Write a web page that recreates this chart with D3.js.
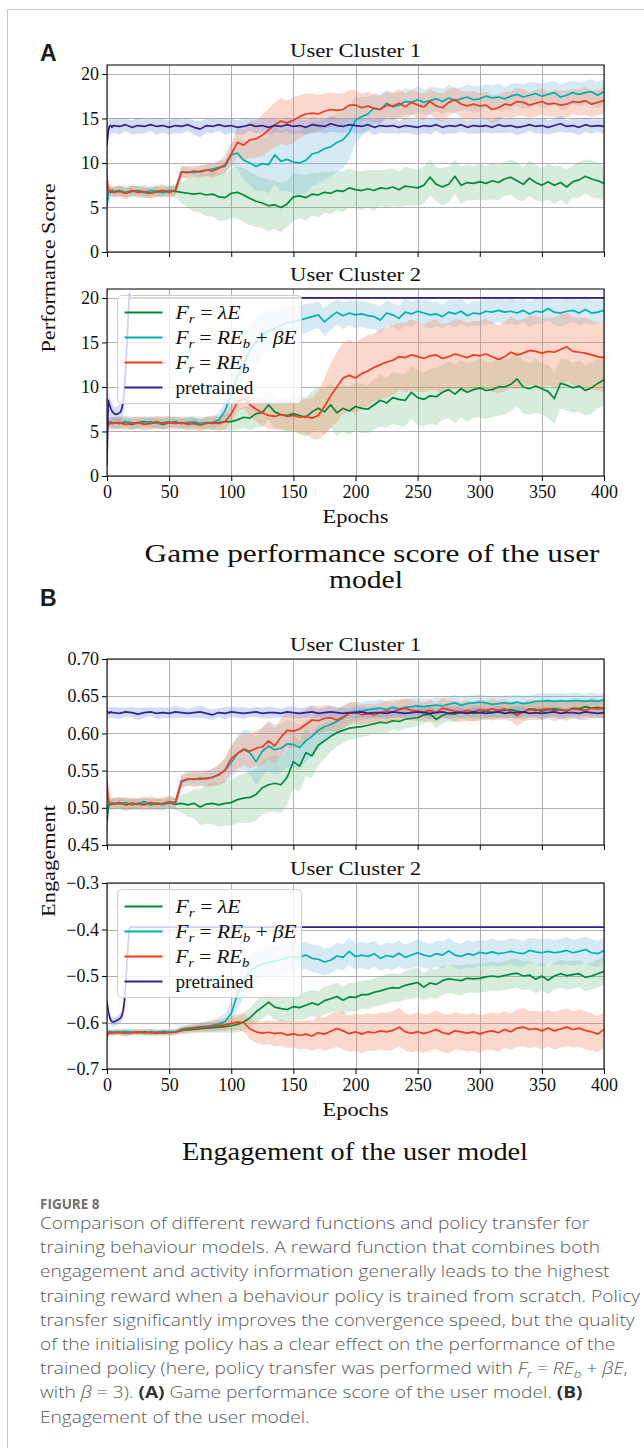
<!DOCTYPE html>
<html>
<head>
<meta charset="utf-8">
<script src="https://cdn.jsdelivr.net/npm/d3@7"></script>
<style>
html, body { margin: 0; padding: 0; background: #fff; }
svg { display: block; }
</style>
</head>
<body>
<svg id="fig" width="644" height="1448"></svg>
<script>
// ---------- shared axes ----------
const epochs = [0, 1, 2, 3, 4].concat(d3.range(5, 401, 5));
const rampEpochs = [0, 1, 2, 3, 4, 5, 7, 9, 11, 12, 13, 14, 15, 16, 17, 18, 19, 20].concat(d3.range(25, 401, 5));
const epochTicks = [0, 50, 100, 150, 200, 250, 300, 350, 400];
const perfTicks = [0, 5, 10, 15, 20];
const engTicks1 = [0.45, 0.50, 0.55, 0.60, 0.65, 0.70];
const engTicks2 = [-0.7, -0.6, -0.5, -0.4, -0.3];
const seriesNames = ["lambdaE", "combined", "behaviour", "pretrained"];

// ---------- Performance score, user cluster 1 ----------
const perfC1Green = [5.6,6.6,6.9,6.7,6.8,
 6.7,6.9,6.6,6.8,6.9,6.7,6.6,6.8,6.7,6.9,
 6.8,6.7,6.6,6.5,6.6,6.4,6.5,6.2,6.1,6.6,
 6.7,6.4,6.0,5.7,5.5,5.2,5.3,5.0,5.4,6.2,
 6.3,6.1,6.5,6.4,6.7,6.6,6.9,6.8,7.2,7.0,
 6.9,7.1,6.9,7.2,7.1,7.3,7.0,7.4,7.3,7.2,
 7.5,8.4,7.6,7.3,7.6,8.5,7.5,7.8,7.7,7.9,
 7.7,8.0,7.8,8.2,8.4,8.0,7.6,8.3,7.8,7.5,
 7.9,7.5,7.8,7.3,7.9,8.1,8.5,8.2,8.0,7.7];
const perfC1GreenBand = [0.8,0.6,0.5,0.5,0.5,
 0.5,0.6,0.5,0.6,0.5,0.6,0.5,0.6,0.5,0.6,
 0.7,1.2,1.6,2.0,2.2,2.4,2.5,2.7,2.6,2.8,
 2.9,3.0,3.0,2.9,2.8,2.9,2.7,2.8,2.6,2.7,
 2.5,2.6,2.4,2.5,2.3,2.4,2.2,2.3,2.2,2.1,
 2.2,2.1,2.3,2.0,2.2,2.1,2.0,2.2,2.1,2.0,
 2.1,2.0,1.9,2.1,2.0,1.9,2.1,2.0,1.9,2.0,
 1.9,2.1,2.0,1.9,2.0,2.1,1.9,2.0,2.0,1.9,
 2.0,2.1,1.9,2.0,1.8,2.0,1.9,2.1,2.0,1.9];
const perfC1Cyan = [5.0,6.5,6.9,6.8,7.0,
 6.8,6.9,6.7,6.9,6.8,6.7,6.9,6.8,6.7,6.9,
 6.9,9.0,9.0,8.9,9.1,9.2,9.3,9.5,9.6,10.9,
 11.1,10.3,10.0,9.6,9.9,9.8,10.9,10.2,10.4,10.1,
 10.0,10.3,11.0,11.2,11.6,11.8,12.3,12.6,13.4,14.8,
 15.2,15.5,16.2,16.0,16.7,16.3,16.5,16.9,16.8,17.1,
 16.8,17.0,17.2,16.9,17.3,17.0,17.2,17.4,17.1,17.2,
 17.5,17.3,17.4,17.2,17.5,17.7,17.4,17.6,17.8,17.5,
 17.7,17.9,17.4,17.6,17.9,17.7,17.9,18.0,17.6,18.0];
const perfC1CyanBand = [1.0,0.6,0.5,0.5,0.5,
 0.5,0.6,0.5,0.5,0.6,0.5,0.5,0.6,0.5,0.5,
 0.5,0.6,0.6,0.5,0.6,0.6,0.7,0.7,0.8,1.2,
 1.8,2.2,2.5,2.8,3.0,3.2,3.3,3.4,3.5,3.6,
 3.6,3.7,3.6,3.5,3.4,3.3,3.3,3.2,3.0,2.6,
 2.2,1.9,1.7,1.6,1.5,1.5,1.4,1.5,1.4,1.5,
 1.4,1.5,1.3,1.4,1.5,1.4,1.3,1.4,1.5,1.4,
 1.3,1.4,1.5,1.3,1.4,1.3,1.4,1.5,1.3,1.4,
 1.4,1.3,1.4,1.5,1.3,1.4,1.3,1.4,1.5,1.4];
const perfC1Red = [8.4,7.0,6.8,6.7,6.8,
 6.7,6.8,6.6,6.9,6.7,6.8,6.6,6.8,6.9,6.7,
 6.9,9.0,8.9,9.1,9.0,9.2,9.1,9.4,9.8,11.0,
 12.3,12.0,12.6,12.7,13.1,13.7,14.3,14.7,14.5,14.8,
 15.2,15.5,15.6,15.5,15.8,16.0,15.9,16.0,16.5,16.5,
 16.2,16.4,16.1,16.0,16.5,16.4,16.7,16.3,16.8,16.5,
 16.3,16.9,16.4,16.2,16.8,17.1,16.6,16.4,16.6,16.4,
 16.5,16.0,16.2,16.6,16.5,16.9,16.8,16.5,16.7,16.9,
 16.6,16.7,16.5,16.6,16.9,16.8,17.0,16.6,16.8,17.0];
const perfC1RedBand = [1.0,0.7,0.6,0.6,0.6,
 0.6,0.6,0.7,0.6,0.6,0.7,0.6,0.6,0.7,0.6,
 0.6,0.7,0.7,0.6,0.7,0.7,0.8,0.8,1.0,1.3,
 1.6,1.8,2.0,2.1,2.3,2.4,2.5,2.6,2.5,2.6,
 2.4,2.3,2.2,2.1,2.0,1.9,1.9,1.8,1.7,1.7,
 1.6,1.6,1.5,1.6,1.5,1.5,1.6,1.5,1.4,1.5,
 1.5,1.4,1.5,1.6,1.5,1.4,1.5,1.6,1.5,1.4,
 1.5,1.6,1.5,1.4,1.5,1.6,1.5,1.4,1.5,1.5,
 1.4,1.5,1.6,1.5,1.4,1.5,1.6,1.5,1.4,1.5];
const perfC1Purple = [12.0,13.6,14.1,14.2,14.0,
 14.2,14.1,14.3,14.0,14.2,14.1,14.3,14.1,14.2,14.0,
 14.2,14.1,14.3,14.0,13.8,14.2,14.1,14.3,14.1,14.2,
 14.0,14.1,14.3,14.1,14.2,14.0,14.2,14.1,14.3,14.1,
 14.2,14.0,14.3,14.2,14.1,14.4,14.2,14.1,14.3,14.2,
 14.1,14.3,14.0,14.2,14.1,14.2,14.0,14.2,14.1,14.0,
 14.2,14.1,14.3,14.0,14.2,14.1,14.3,14.0,14.2,14.1,
 14.2,14.0,14.3,14.1,14.2,14.0,14.1,14.3,14.1,14.2,
 14.0,14.2,14.4,14.1,14.2,14.0,14.3,14.1,14.2,14.1];
const perfC1PurpleBand = [1.8,1.0,0.9,0.8,0.8,
 0.8,0.9,0.7,0.8,0.9,0.8,0.7,0.9,0.8,0.8,
 0.9,0.8,0.7,0.8,0.9,0.8,0.8,0.7,0.9,0.8,
 0.8,0.9,0.7,0.8,0.8,0.9,0.8,0.7,0.8,0.9,
 0.8,0.8,0.9,0.7,0.8,0.9,0.8,0.8,0.7,0.9,
 0.8,0.7,0.9,0.8,0.8,0.9,0.7,0.8,0.8,0.9,
 0.8,0.9,0.7,0.8,0.9,0.8,0.8,0.7,0.9,0.8,
 0.8,0.7,0.9,0.8,0.8,0.9,0.8,0.7,0.8,0.9,
 0.8,0.8,0.9,0.7,0.8,0.9,0.8,0.8,0.7,0.9];

// ---------- Performance score, user cluster 2 ----------
const perfC2Green = [6.2,5.9,6.0,6.1,5.9,
 6.0,5.9,6.1,5.8,6.0,6.1,5.9,6.0,5.8,6.0,
 6.1,5.9,6.0,5.9,5.8,6.0,5.9,6.0,6.1,6.1,
 6.3,6.6,6.5,7.0,7.1,8.0,7.2,6.9,6.8,7.0,
 6.8,6.6,7.2,7.6,7.2,8.0,7.1,7.6,7.3,7.8,
 7.6,7.5,8.0,8.5,8.2,8.8,8.6,8.5,9.4,8.8,
 8.6,9.0,8.9,9.4,9.7,9.2,9.8,9.4,9.7,9.9,
 9.6,9.7,10.0,10.0,10.3,10.9,10.0,9.8,10.1,9.8,
 9.5,8.7,10.4,10.2,9.9,10.1,9.6,9.9,10.4,10.8];
const perfC2GreenBand = [0.8,0.6,0.6,0.6,0.6,
 0.6,0.6,0.7,0.6,0.6,0.6,0.7,0.6,0.6,0.6,
 0.6,0.6,0.7,0.6,0.6,0.7,0.7,0.8,0.9,1.0,
 1.1,1.2,1.4,1.5,1.6,1.7,1.8,1.8,1.9,2.0,
 2.1,2.2,2.3,2.4,2.5,2.5,2.6,2.6,2.7,2.7,
 2.8,2.7,2.8,2.9,2.8,2.9,3.0,2.9,3.0,3.1,
 3.0,3.1,3.2,3.1,3.2,3.3,3.2,3.3,3.2,3.3,
 3.2,3.1,3.2,3.1,3.0,3.1,3.0,2.9,3.0,2.9,
 3.0,2.9,2.8,2.9,2.8,2.9,2.8,2.9,2.8,2.9];
const perfC2Cyan = [6.2,6.0,5.9,6.1,6.0,
 6.0,5.9,6.1,6.0,5.9,6.0,6.1,5.9,6.0,6.1,
 6.0,5.9,6.0,6.1,5.9,6.0,6.0,6.3,7.3,9.2,
 11.2,12.6,14.2,15.1,15.8,16.3,16.6,16.9,17.2,17.3,
 17.5,17.7,17.9,18.1,17.3,17.9,18.4,18.0,18.3,18.1,
 18.2,18.0,17.9,17.5,18.3,18.1,17.7,18.4,18.2,18.5,
 18.3,18.1,18.2,17.9,18.4,18.2,18.5,18.0,18.3,18.2,
 18.5,18.4,18.6,18.4,18.5,18.3,18.6,18.2,18.5,18.4,
 18.8,18.4,18.3,18.5,18.6,18.3,18.7,18.3,18.4,18.6];
const perfC2CyanBand = [0.8,0.6,0.6,0.6,0.6,
 0.6,0.6,0.6,0.7,0.6,0.6,0.6,0.6,0.7,0.6,
 0.6,0.6,0.6,0.7,0.6,0.6,0.7,0.8,1.2,1.9,
 2.4,2.7,2.8,2.7,2.5,2.3,2.1,2.0,1.9,1.8,
 1.7,1.6,1.5,1.5,1.6,1.5,1.4,1.5,1.4,1.5,
 1.4,1.5,1.4,1.5,1.4,1.3,1.4,1.5,1.4,1.3,
 1.4,1.5,1.4,1.3,1.4,1.5,1.4,1.3,1.4,1.4,
 1.5,1.4,1.3,1.4,1.5,1.4,1.3,1.4,1.5,1.4,
 1.3,1.4,1.5,1.4,1.3,1.4,1.5,1.4,1.3,1.4];
const perfC2Red = [6.0,5.9,5.8,6.0,5.9,
 5.9,6.0,5.8,5.9,6.0,5.8,5.9,6.1,5.9,6.0,
 5.9,6.0,5.8,5.9,5.7,5.9,6.0,5.9,6.1,7.0,
 8.3,8.8,8.0,7.5,7.1,6.8,6.7,6.9,6.7,6.8,
 6.6,6.7,6.5,6.8,7.8,9.0,10.0,11.0,11.3,11.0,
 11.5,11.8,12.2,12.5,12.8,13.0,13.4,13.3,13.6,13.4,
 13.2,13.5,13.6,13.2,13.4,13.7,13.5,13.3,13.6,13.5,
 13.7,13.4,13.1,13.4,13.9,13.6,13.8,14.1,14.0,13.8,
 14.0,13.9,14.2,14.5,14.0,13.9,13.8,13.6,13.4,13.3];
const perfC2RedBand = [0.8,0.7,0.7,0.7,0.7,
 0.7,0.7,0.6,0.7,0.7,0.7,0.6,0.7,0.7,0.7,
 0.7,0.6,0.7,0.7,0.7,0.7,0.8,0.8,0.9,1.0,
 1.0,1.2,1.3,1.4,1.4,1.5,1.5,1.6,1.6,1.7,
 1.8,2.0,2.3,2.7,3.2,3.6,3.9,4.0,4.0,4.0,
 3.9,4.0,3.8,3.9,4.0,3.9,3.8,3.9,4.0,3.9,
 3.8,3.9,4.0,3.9,3.8,3.9,4.0,3.9,3.8,3.9,
 4.0,3.9,3.8,3.9,4.0,3.9,3.8,3.9,4.0,3.9,
 3.8,3.9,4.0,3.9,3.8,3.9,4.0,3.9,3.8,3.9];
const perfC2Purple = [1.2,8.5,8.0,7.6,7.3,7.1,6.9,7.0,7.2,7.6,8.3,9.8,12.0,14.8,17.8,20.3,20.0,20.0,
 20,20,20,20,20,20,20,20,20,20,20,20,20,20,20,20,20,20,20,
 20,20,20,20,20,20,20,20,20,20,20,20,20,20,20,20,20,20,20,
 20,20,20,20,20,20,20,20,20,20,20,20,20,20,20,20,20,20,20,
 20,20,20,20,20,20,20,20,20,20,20,20,20,20,20,20,20,20,20];
const perfC2PurpleBand = [0.5,1.2,1.0,0.9,0.9,0.8,0.8,0.9,1.0,1.2,1.5,2.0,2.5,2.5,2.0,0.6,0.2,0.1,
 0.05,0.05,0.05,0.05,0.05,0.05,0.05,0.05,0.05,0.05,0.05,0.05,0.05,0.05,0.05,0.05,0.05,0.05,0.05,
 0.05,0.05,0.05,0.05,0.05,0.05,0.05,0.05,0.05,0.05,0.05,0.05,0.05,0.05,0.05,0.05,0.05,0.05,0.05,
 0.05,0.05,0.05,0.05,0.05,0.05,0.05,0.05,0.05,0.05,0.05,0.05,0.05,0.05,0.05,0.05,0.05,0.05,0.05,
 0.05,0.05,0.05,0.05,0.05,0.05,0.05,0.05,0.05,0.05,0.05,0.05,0.05,0.05,0.05,0.05,0.05,0.05,0.05];

// ---------- Engagement, user cluster 1 ----------
const engC1Green = [0.480,0.500,0.506,0.504,0.507,
 0.505,0.507,0.504,0.506,0.505,0.508,0.504,0.506,0.505,0.507,
 0.505,0.506,0.504,0.506,0.501,0.505,0.506,0.504,0.506,0.507,
 0.511,0.513,0.514,0.518,0.527,0.531,0.533,0.531,0.541,0.562,
 0.556,0.574,0.570,0.584,0.590,0.596,0.601,0.604,0.607,0.608,
 0.609,0.611,0.613,0.615,0.614,0.617,0.616,0.619,0.620,0.621,
 0.625,0.626,0.619,0.624,0.627,0.626,0.629,0.628,0.627,0.628,
 0.630,0.628,0.630,0.631,0.632,0.630,0.628,0.633,0.632,0.630,
 0.632,0.633,0.632,0.630,0.634,0.633,0.636,0.634,0.635,0.633];
const engC1GreenBand = [0.012,0.008,0.007,0.007,0.007,
 0.007,0.008,0.007,0.006,0.007,0.008,0.007,0.007,0.006,0.007,
 0.008,0.012,0.016,0.020,0.024,0.026,0.028,0.029,0.030,0.031,
 0.032,0.033,0.034,0.035,0.036,0.037,0.038,0.038,0.037,0.036,
 0.034,0.032,0.030,0.027,0.024,0.021,0.019,0.017,0.016,0.015,
 0.014,0.014,0.013,0.014,0.013,0.012,0.013,0.012,0.012,0.011,
 0.012,0.011,0.012,0.011,0.010,0.011,0.010,0.011,0.010,0.011,
 0.010,0.011,0.010,0.010,0.011,0.010,0.011,0.010,0.010,0.011,
 0.010,0.011,0.010,0.011,0.010,0.010,0.011,0.010,0.011,0.010];
const engC1Cyan = [0.500,0.505,0.507,0.505,0.506,
 0.506,0.505,0.507,0.504,0.506,0.507,0.505,0.506,0.504,0.507,
 0.506,0.535,0.538,0.539,0.538,0.540,0.541,0.545,0.550,0.561,
 0.573,0.578,0.574,0.562,0.576,0.583,0.578,0.580,0.586,0.585,
 0.581,0.590,0.596,0.604,0.609,0.612,0.616,0.621,0.627,0.630,
 0.630,0.632,0.633,0.634,0.632,0.635,0.633,0.635,0.636,0.637,
 0.636,0.637,0.638,0.637,0.639,0.641,0.638,0.640,0.641,0.642,
 0.641,0.639,0.640,0.641,0.640,0.642,0.640,0.641,0.643,0.643,
 0.644,0.643,0.644,0.643,0.644,0.644,0.643,0.644,0.643,0.645];
const engC1CyanBand = [0.010,0.008,0.007,0.007,0.007,
 0.007,0.007,0.008,0.007,0.007,0.006,0.007,0.007,0.008,0.007,
 0.007,0.008,0.008,0.009,0.009,0.010,0.011,0.013,0.016,0.020,
 0.024,0.027,0.030,0.032,0.033,0.034,0.034,0.033,0.032,0.031,
 0.030,0.028,0.026,0.024,0.021,0.018,0.016,0.015,0.014,0.013,
 0.012,0.012,0.011,0.012,0.011,0.012,0.011,0.011,0.012,0.011,
 0.011,0.010,0.011,0.011,0.010,0.011,0.010,0.011,0.010,0.011,
 0.010,0.011,0.010,0.010,0.011,0.010,0.011,0.010,0.010,0.011,
 0.010,0.011,0.010,0.010,0.011,0.010,0.010,0.011,0.010,0.010];
const engC1Red = [0.538,0.512,0.505,0.504,0.506,
 0.505,0.507,0.504,0.506,0.505,0.504,0.507,0.505,0.506,0.508,
 0.507,0.536,0.539,0.538,0.540,0.539,0.541,0.544,0.551,0.566,
 0.573,0.579,0.576,0.580,0.582,0.590,0.583,0.595,0.604,0.603,
 0.606,0.612,0.618,0.617,0.620,0.621,0.618,0.622,0.627,0.628,
 0.625,0.627,0.625,0.628,0.630,0.629,0.632,0.634,0.631,0.630,
 0.629,0.631,0.628,0.634,0.632,0.630,0.629,0.631,0.629,0.632,
 0.631,0.633,0.631,0.633,0.629,0.624,0.629,0.632,0.631,0.632,
 0.633,0.630,0.632,0.631,0.633,0.632,0.631,0.634,0.633,0.634];
const engC1RedBand = [0.012,0.009,0.008,0.008,0.008,
 0.008,0.008,0.009,0.008,0.008,0.008,0.009,0.008,0.008,0.009,
 0.008,0.009,0.009,0.010,0.010,0.011,0.012,0.014,0.016,0.019,
 0.021,0.022,0.023,0.024,0.025,0.025,0.024,0.025,0.024,0.023,
 0.022,0.021,0.020,0.019,0.018,0.017,0.016,0.015,0.015,0.014,
 0.014,0.013,0.014,0.013,0.014,0.013,0.014,0.013,0.014,0.013,
 0.013,0.014,0.013,0.014,0.013,0.014,0.013,0.014,0.013,0.014,
 0.013,0.014,0.013,0.014,0.013,0.014,0.013,0.014,0.013,0.014,
 0.013,0.014,0.013,0.014,0.013,0.014,0.013,0.014,0.013,0.014];
const engC1Purple = [0.630,0.628,0.627,0.629,0.628,
 0.628,0.627,0.629,0.628,0.626,0.628,0.629,0.627,0.628,0.627,
 0.629,0.628,0.627,0.628,0.629,0.627,0.625,0.628,0.627,0.629,
 0.628,0.627,0.628,0.629,0.627,0.628,0.628,0.627,0.629,0.628,
 0.627,0.628,0.629,0.627,0.628,0.629,0.628,0.627,0.628,0.628,
 0.629,0.627,0.628,0.628,0.627,0.629,0.628,0.627,0.628,0.629,
 0.628,0.627,0.628,0.629,0.627,0.628,0.628,0.627,0.629,0.628,
 0.627,0.628,0.629,0.627,0.628,0.628,0.629,0.627,0.628,0.627,
 0.628,0.629,0.627,0.628,0.628,0.627,0.629,0.628,0.627,0.628];
const engC1PurpleBand = [0.009,0.008,0.007,0.007,0.007,
 0.007,0.008,0.006,0.007,0.008,0.007,0.006,0.008,0.007,0.007,
 0.008,0.007,0.006,0.007,0.008,0.007,0.007,0.006,0.008,0.007,
 0.007,0.008,0.006,0.007,0.007,0.008,0.007,0.006,0.007,0.008,
 0.007,0.007,0.008,0.006,0.007,0.008,0.007,0.007,0.006,0.008,
 0.007,0.006,0.008,0.007,0.007,0.008,0.006,0.007,0.007,0.008,
 0.007,0.008,0.006,0.007,0.008,0.007,0.007,0.006,0.008,0.007,
 0.007,0.006,0.008,0.007,0.007,0.008,0.007,0.006,0.007,0.008,
 0.007,0.007,0.008,0.006,0.007,0.008,0.007,0.007,0.006,0.008];

// ---------- Engagement, user cluster 2 ----------
const engC2Green = [-0.624,-0.622,-0.621,-0.623,-0.622,
 -0.622,-0.621,-0.623,-0.621,-0.622,-0.620,-0.622,-0.621,-0.623,-0.621,
 -0.620,-0.617,-0.616,-0.615,-0.613,-0.612,-0.611,-0.610,-0.609,-0.607,
 -0.604,-0.599,-0.590,-0.577,-0.567,-0.556,-0.567,-0.570,-0.572,-0.566,
 -0.568,-0.563,-0.558,-0.562,-0.553,-0.549,-0.544,-0.552,-0.545,-0.546,
 -0.540,-0.540,-0.535,-0.532,-0.528,-0.525,-0.526,-0.520,-0.517,-0.514,
 -0.524,-0.515,-0.518,-0.510,-0.506,-0.508,-0.510,-0.505,-0.506,-0.505,
 -0.502,-0.500,-0.502,-0.499,-0.496,-0.494,-0.500,-0.498,-0.507,-0.500,
 -0.509,-0.500,-0.495,-0.499,-0.497,-0.495,-0.503,-0.500,-0.495,-0.490];
const engC2GreenBand = [0.008,0.006,0.006,0.006,0.006,
 0.006,0.006,0.007,0.006,0.006,0.006,0.007,0.006,0.006,0.006,
 0.006,0.007,0.008,0.008,0.009,0.010,0.011,0.012,0.013,0.015,
 0.017,0.019,0.021,0.023,0.025,0.026,0.027,0.027,0.028,0.028,
 0.028,0.029,0.028,0.029,0.030,0.029,0.030,0.029,0.030,0.031,
 0.030,0.031,0.030,0.031,0.032,0.031,0.030,0.031,0.032,0.031,
 0.030,0.031,0.032,0.031,0.030,0.031,0.032,0.031,0.030,0.031,
 0.032,0.031,0.030,0.031,0.032,0.031,0.030,0.031,0.030,0.031,
 0.030,0.029,0.030,0.031,0.030,0.029,0.030,0.029,0.030,0.029];
const engC2Cyan = [-0.622,-0.620,-0.621,-0.619,-0.621,
 -0.620,-0.621,-0.619,-0.621,-0.620,-0.622,-0.620,-0.621,-0.619,-0.620,
 -0.621,-0.614,-0.612,-0.611,-0.609,-0.608,-0.606,-0.603,-0.598,-0.580,
 -0.540,-0.510,-0.490,-0.480,-0.474,-0.471,-0.468,-0.465,-0.461,-0.458,
 -0.460,-0.455,-0.462,-0.464,-0.470,-0.466,-0.457,-0.460,-0.447,-0.458,
 -0.455,-0.458,-0.452,-0.462,-0.456,-0.459,-0.451,-0.460,-0.455,-0.450,
 -0.455,-0.458,-0.452,-0.455,-0.446,-0.455,-0.458,-0.452,-0.455,-0.449,
 -0.452,-0.448,-0.452,-0.450,-0.447,-0.450,-0.452,-0.445,-0.448,-0.450,
 -0.447,-0.450,-0.448,-0.445,-0.450,-0.447,-0.443,-0.450,-0.452,-0.445];
const engC2CyanBand = [0.008,0.006,0.006,0.006,0.006,
 0.006,0.006,0.007,0.006,0.006,0.006,0.007,0.006,0.006,0.006,
 0.006,0.007,0.008,0.008,0.009,0.010,0.012,0.014,0.018,0.025,
 0.032,0.036,0.038,0.036,0.034,0.033,0.032,0.031,0.030,0.030,
 0.029,0.030,0.029,0.030,0.029,0.028,0.029,0.028,0.029,0.028,
 0.028,0.029,0.028,0.027,0.028,0.029,0.028,0.027,0.028,0.029,
 0.028,0.027,0.028,0.029,0.028,0.027,0.028,0.029,0.028,0.027,
 0.028,0.029,0.028,0.027,0.028,0.029,0.028,0.027,0.028,0.029,
 0.028,0.027,0.028,0.029,0.028,0.027,0.028,0.029,0.028,0.027];
const engC2Red = [-0.632,-0.624,-0.622,-0.621,-0.623,
 -0.622,-0.621,-0.623,-0.622,-0.620,-0.622,-0.621,-0.623,-0.621,-0.622,
 -0.621,-0.617,-0.614,-0.612,-0.611,-0.610,-0.608,-0.606,-0.605,-0.602,
 -0.599,-0.600,-0.614,-0.620,-0.623,-0.621,-0.624,-0.622,-0.627,-0.624,
 -0.628,-0.625,-0.629,-0.622,-0.625,-0.619,-0.613,-0.618,-0.624,-0.620,
 -0.625,-0.620,-0.622,-0.618,-0.620,-0.617,-0.610,-0.620,-0.623,-0.620,
 -0.624,-0.620,-0.615,-0.622,-0.625,-0.618,-0.620,-0.623,-0.620,-0.625,
 -0.620,-0.618,-0.622,-0.615,-0.620,-0.612,-0.610,-0.615,-0.613,-0.618,
 -0.612,-0.618,-0.614,-0.610,-0.615,-0.612,-0.617,-0.620,-0.625,-0.615];
const engC2RedBand = [0.008,0.006,0.006,0.006,0.006,
 0.006,0.006,0.007,0.006,0.006,0.006,0.007,0.006,0.006,0.006,
 0.006,0.007,0.008,0.009,0.010,0.011,0.012,0.013,0.014,0.015,
 0.017,0.020,0.022,0.024,0.025,0.026,0.027,0.028,0.028,0.029,
 0.030,0.031,0.032,0.034,0.036,0.038,0.039,0.040,0.039,0.040,
 0.041,0.040,0.039,0.040,0.041,0.042,0.041,0.040,0.041,0.042,
 0.041,0.040,0.041,0.042,0.041,0.040,0.039,0.040,0.041,0.040,
 0.039,0.040,0.041,0.040,0.039,0.040,0.041,0.040,0.039,0.040,
 0.039,0.040,0.041,0.040,0.039,0.040,0.041,0.040,0.039,0.040];
const engC2Purple = [-0.555,-0.575,-0.588,-0.595,-0.598,-0.599,-0.597,-0.594,-0.590,-0.585,-0.575,-0.555,-0.520,-0.475,-0.430,-0.398,-0.395,-0.395,
 -0.395,-0.395,-0.395,-0.395,-0.395,-0.395,-0.395,-0.395,-0.395,-0.395,-0.395,-0.395,-0.395,-0.395,-0.395,-0.395,-0.395,-0.395,-0.395,
 -0.395,-0.395,-0.395,-0.395,-0.395,-0.395,-0.395,-0.395,-0.395,-0.395,-0.395,-0.395,-0.395,-0.395,-0.395,-0.395,-0.395,-0.395,-0.395,
 -0.395,-0.395,-0.395,-0.395,-0.395,-0.395,-0.395,-0.395,-0.395,-0.395,-0.395,-0.395,-0.395,-0.395,-0.395,-0.395,-0.395,-0.395,-0.395,
 -0.395,-0.395,-0.395,-0.395,-0.395,-0.395,-0.395,-0.395,-0.395,-0.395,-0.395,-0.395,-0.395,-0.395,-0.395,-0.395,-0.395,-0.395,-0.395];
const engC2PurpleBand = [0.005,0.008,0.009,0.010,0.010,0.010,0.010,0.010,0.011,0.012,0.015,0.020,0.025,0.025,0.020,0.008,0.003,0.002,
 0.002,0.002,0.002,0.002,0.002,0.002,0.002,0.002,0.002,0.002,0.002,0.002,0.002,0.002,0.002,0.002,0.002,0.002,0.002,
 0.002,0.002,0.002,0.002,0.002,0.002,0.002,0.002,0.002,0.002,0.002,0.002,0.002,0.002,0.002,0.002,0.002,0.002,0.002,
 0.002,0.002,0.002,0.002,0.002,0.002,0.002,0.002,0.002,0.002,0.002,0.002,0.002,0.002,0.002,0.002,0.002,0.002,0.002,
 0.002,0.002,0.002,0.002,0.002,0.002,0.002,0.002,0.002,0.002,0.002,0.002,0.002,0.002,0.002,0.002,0.002,0.002,0.002];

// Legend entries: [text, style] pieces; "i" italic, "sub" italic subscript
const legendLabels = [
  [["F", "i"], ["r", "sub"], [" = ", ""], ["λE", "i"]],
  [["F", "i"], ["r", "sub"], [" = ", ""], ["RE", "i"], ["b", "sub"], [" + ", ""], ["βE", "i"]],
  [["F", "i"], ["r", "sub"], [" = ", ""], ["RE", "i"], ["b", "sub"]],
  [["pretrained", ""]]
];

// ---------- styling ----------
const SERIF = "'Liberation Serif','Times New Roman',serif";
const SANS = "'Liberation Sans',Arial,sans-serif";
const CAPTION = "'Open Sans','Noto Sans',sans-serif";
const lineColor = { lambdaE: "#00893b", combined: "#00b1b1", behaviour: "#ef3b1e", pretrained: "#3a1f8e" };
const bandColor = {
  lambdaE: "rgba(110,190,125,0.28)",
  combined: "rgba(115,185,220,0.30)",
  behaviour: "rgba(245,135,95,0.32)",
  pretrained: "rgba(110,150,225,0.32)"
};

const svg = d3.select("#fig");
const X0 = 107, X1 = 604;
const x = d3.scaleLinear().domain([0, 400]).range([X0, X1]);

// page frame
svg.append("line").attr("x1", 7.5).attr("x2", 7.5).attr("y1", 9).attr("y2", 1448).attr("stroke", "#c9c9c9").attr("stroke-width", 1);
svg.append("line").attr("x1", 7.5).attr("x2", 644).attr("y1", 9.5).attr("y2", 9.5).attr("stroke", "#c9c9c9").attr("stroke-width", 1);

function stretch(sel, width) {
  sel.attr("textLength", width).attr("lengthAdjust", "spacingAndGlyphs");
  return sel;
}

function mk(keys, eps, vals, bands) {
  return keys.map((k, i) => ({ key: k, epochs: eps[i], values: vals[i], band: bands[i] }));
}

const panels = [
  { id: "a1", top: 65, bottom: 252, domain: [0, 21], ticks: perfTicks, fmt: d3.format("d"),
    title: "User Cluster 1", xLabels: false, legend: false,
    series: mk(seriesNames, [epochs, epochs, epochs, epochs],
      [perfC1Green, perfC1Cyan, perfC1Red, perfC1Purple],
      [perfC1GreenBand, perfC1CyanBand, perfC1RedBand, perfC1PurpleBand]) },
  { id: "a2", top: 289, bottom: 476, domain: [0, 21], ticks: perfTicks, fmt: d3.format("d"),
    title: "User Cluster 2", xLabels: true, legend: true,
    series: mk(seriesNames, [epochs, epochs, epochs, rampEpochs],
      [perfC2Green, perfC2Cyan, perfC2Red, perfC2Purple],
      [perfC2GreenBand, perfC2CyanBand, perfC2RedBand, perfC2PurpleBand]) },
  { id: "b1", top: 659, bottom: 845, domain: [0.45, 0.70], ticks: engTicks1, fmt: d3.format(".2f"),
    title: "User Cluster 1", xLabels: false, legend: false,
    series: mk(seriesNames, [epochs, epochs, epochs, epochs],
      [engC1Green, engC1Cyan, engC1Red, engC1Purple],
      [engC1GreenBand, engC1CyanBand, engC1RedBand, engC1PurpleBand]) },
  { id: "b2", top: 883, bottom: 1069, domain: [-0.7, -0.3], ticks: engTicks2, fmt: d3.format(".1f"),
    title: "User Cluster 2", xLabels: true, legend: true,
    series: mk(seriesNames, [epochs, epochs, epochs, rampEpochs],
      [engC2Green, engC2Cyan, engC2Red, engC2Purple],
      [engC2GreenBand, engC2CyanBand, engC2RedBand, engC2PurpleBand]) }
];

function drawPanel(p) {
  const y = d3.scaleLinear().domain(p.domain).range([p.bottom, p.top]);
  const g = svg.append("g").attr("class", "panel-" + p.id);

  svg.append("clipPath").attr("id", "clip-" + p.id)
    .append("rect").attr("x", X0).attr("y", p.top).attr("width", X1 - X0).attr("height", p.bottom - p.top);

  // grid
  const grid = g.append("g").attr("stroke", "#b0b0b0").attr("stroke-width", 1);
  grid.selectAll("line.vx").data(epochTicks).join("line")
    .attr("x1", d => Math.round(x(d)) + 0.5).attr("x2", d => Math.round(x(d)) + 0.5)
    .attr("y1", p.top).attr("y2", p.bottom);
  grid.selectAll("line.hy").data(p.ticks).join("line")
    .attr("x1", X0).attr("x2", X1)
    .attr("y1", d => Math.round(y(d)) + 0.5).attr("y2", d => Math.round(y(d)) + 0.5);

  const plot = g.append("g").attr("clip-path", "url(#clip-" + p.id + ")");

  const rows = s => s.epochs.map((e, i) => ({ e: e, v: s.values[i], h: s.band[i] }));

  // spread bands
  p.series.forEach(s => {
    plot.append("path").datum(rows(s))
      .attr("fill", bandColor[s.key]).attr("stroke", "none")
      .attr("d", d3.area().x(d => x(d.e)).y0(d => y(d.v - d.h)).y1(d => y(d.v + d.h)));
  });
  // mean lines
  p.series.forEach(s => {
    plot.append("path").datum(rows(s))
      .attr("fill", "none").attr("stroke", lineColor[s.key]).attr("stroke-width", 1.7)
      .attr("stroke-linejoin", "round")
      .attr("d", d3.line().x(d => x(d.e)).y(d => y(d.v)));
  });

  // axes
  const ax = g.append("g").attr("transform", "translate(" + X0 + ",0)")
    .call(d3.axisLeft(y).tickValues(p.ticks).tickFormat(p.fmt).tickSize(5).tickPadding(3));
  const bx = g.append("g").attr("transform", "translate(0," + p.bottom + ")")
    .call(d3.axisBottom(x).tickValues(epochTicks).tickFormat(p.xLabels ? d3.format("d") : () => "").tickSize(5).tickPadding(4));
  [ax, bx].forEach(a => {
    a.select(".domain").remove();
    a.selectAll(".tick line").attr("stroke", "#000").attr("stroke-width", 1);
    a.selectAll(".tick text").attr("fill", "#111")
      .style("font-family", SERIF).style("font-size", "18px");
  });

  // frame
  g.append("rect").attr("x", X0).attr("y", p.top).attr("width", X1 - X0).attr("height", p.bottom - p.top)
    .attr("fill", "none").attr("stroke", "#111").attr("stroke-width", 1.1);

  // subplot title
  stretch(g.append("text").attr("x", (X0 + X1) / 2).attr("y", p.top - 8)
    .attr("text-anchor", "middle").attr("font-family", SERIF).attr("font-size", 18).attr("fill", "#111")
    .text(p.title), 131);

  if (p.xLabels) {
    stretch(g.append("text").attr("x", (X0 + X1) / 2).attr("y", p.bottom + 47)
      .attr("text-anchor", "middle").attr("font-family", SERIF).attr("font-size", 18).attr("fill", "#111")
      .text("Epochs"), 66);
  }

  if (p.legend) drawLegend(g, p.top);
}

function drawLegend(g, top) {
  const lx = 117.5, ly = top + 6.5;
  g.append("rect").attr("x", lx).attr("y", ly).attr("width", 184).attr("height", 108).attr("rx", 4)
    .attr("fill", "#fff").attr("fill-opacity", 0.8).attr("stroke", "#cfcfcf").attr("stroke-width", 1);
  const widths = [65, 121, 74, 78];
  seriesNames.forEach((k, i) => {
    const cy = ly + 17 + i * 25;
    g.append("line").attr("x1", lx + 7).attr("x2", lx + 45).attr("y1", cy).attr("y2", cy)
      .attr("stroke", lineColor[k]).attr("stroke-width", 2);
    const t = g.append("text").attr("x", lx + 58).attr("y", cy + 6)
      .attr("font-family", SERIF).attr("font-size", 18.5).attr("fill", "#111");
    let shifted = false;
    legendLabels[i].forEach(([txt, style]) => {
      const ts = t.append("tspan").text(txt);
      if (style === "sub") {
        ts.attr("font-style", "italic").attr("font-size", 13).attr("dy", 4);
        shifted = true;
      } else {
        if (shifted) { ts.attr("dy", -4); shifted = false; }
        if (style === "i") ts.attr("font-style", "italic");
      }
    });
    stretch(t, widths[i]);
  });
}

panels.forEach(drawPanel);

// y-axis labels shared by each pair of subplots
stretch(svg.append("text").attr("transform", "translate(55,268) rotate(-90)")
  .attr("text-anchor", "middle").attr("font-family", SERIF).attr("font-size", 18).attr("fill", "#111")
  .text("Performance Score"), 169);
stretch(svg.append("text").attr("transform", "translate(55,861) rotate(-90)")
  .attr("text-anchor", "middle").attr("font-family", SERIF).attr("font-size", 18).attr("fill", "#111")
  .text("Engagement"), 112);

// panel letters
svg.append("text").attr("x", 40).attr("y", 61).attr("font-family", SANS).attr("font-weight", "bold")
  .attr("font-size", 23).attr("fill", "#1a1a1a").text("A");
svg.append("text").attr("x", 40).attr("y", 606).attr("font-family", SANS).attr("font-weight", "bold")
  .attr("font-size", 23).attr("fill", "#1a1a1a").text("B");

// figure titles
stretch(svg.append("text").attr("x", 372).attr("y", 562).attr("text-anchor", "middle")
  .attr("font-family", SERIF).attr("font-size", 25).attr("fill", "#111")
  .text("Game performance score of the user"), 455);
stretch(svg.append("text").attr("x", 366).attr("y", 588).attr("text-anchor", "middle")
  .attr("font-family", SERIF).attr("font-size", 25).attr("fill", "#111")
  .text("model"), 74);
stretch(svg.append("text").attr("x", 355).attr("y", 1160).attr("text-anchor", "middle")
  .attr("font-family", SERIF).attr("font-size", 25).attr("fill", "#111")
  .text("Engagement of the user model"), 346);

// caption
svg.append("text").attr("x", 40).attr("y", 1209).attr("font-family", CAPTION).attr("font-weight", 700)
  .attr("font-size", 13.5).attr("fill", "#6f6f6f").text("FIGURE 8");

const captionLines = [
  [["Comparison of different reward functions and policy transfer for", ""]],
  [["training behaviour models. A reward function that combines both", ""]],
  [["engagement and activity information generally leads to the highest", ""]],
  [["training reward when a behaviour policy is trained from scratch. Policy", ""]],
  [["transfer significantly improves the convergence speed, but the quality", ""]],
  [["of the initialising policy has a clear effect on the performance of the", ""]],
  [["trained policy (here, policy transfer was performed with ", ""], ["F", "i"], ["r", "sub"], [" = ", ""], ["RE", "i"], ["b", "sub"], [" + ", ""], ["βE", "i"], [",", ""]],
  [["with ", ""], ["β", "i"], [" = 3). ", ""], ["(A)", "b"], [" Game performance score of the user model. ", ""], ["(B)", "b"]],
  [["Engagement of the user model.", ""]]
];

// caption set at a fixed size and widened horizontally so the longest line spans the text block
const capSize = 16.5;
const cap = svg.append("g").attr("font-family", CAPTION).attr("font-weight", 300).attr("fill", "#5a5a5a");
const probe = cap.append("text").attr("font-size", capSize).text(captionLines[3][0][0]);
const widen = 600 / probe.node().getComputedTextLength();
probe.remove();
captionLines.forEach((pieces, k) => {
  const t = cap.append("text").attr("x", 40).attr("y", 1229 + 24.2 * k).attr("font-size", capSize);
  let shifted = false;
  pieces.forEach(([txt, style]) => {
    const ts = t.append("tspan").text(txt);
    if (style === "sub") {
      ts.attr("font-style", "italic").attr("font-size", capSize * 0.7).attr("dy", 4);
      shifted = true;
    } else {
      if (shifted) { ts.attr("dy", -4); shifted = false; }
      if (style === "i") ts.attr("font-style", "italic");
      if (style === "b") ts.attr("font-weight", 700).attr("fill", "#333");
    }
  });
  stretch(t, t.node().getComputedTextLength() * widen);
});
</script>
</body>
</html>
